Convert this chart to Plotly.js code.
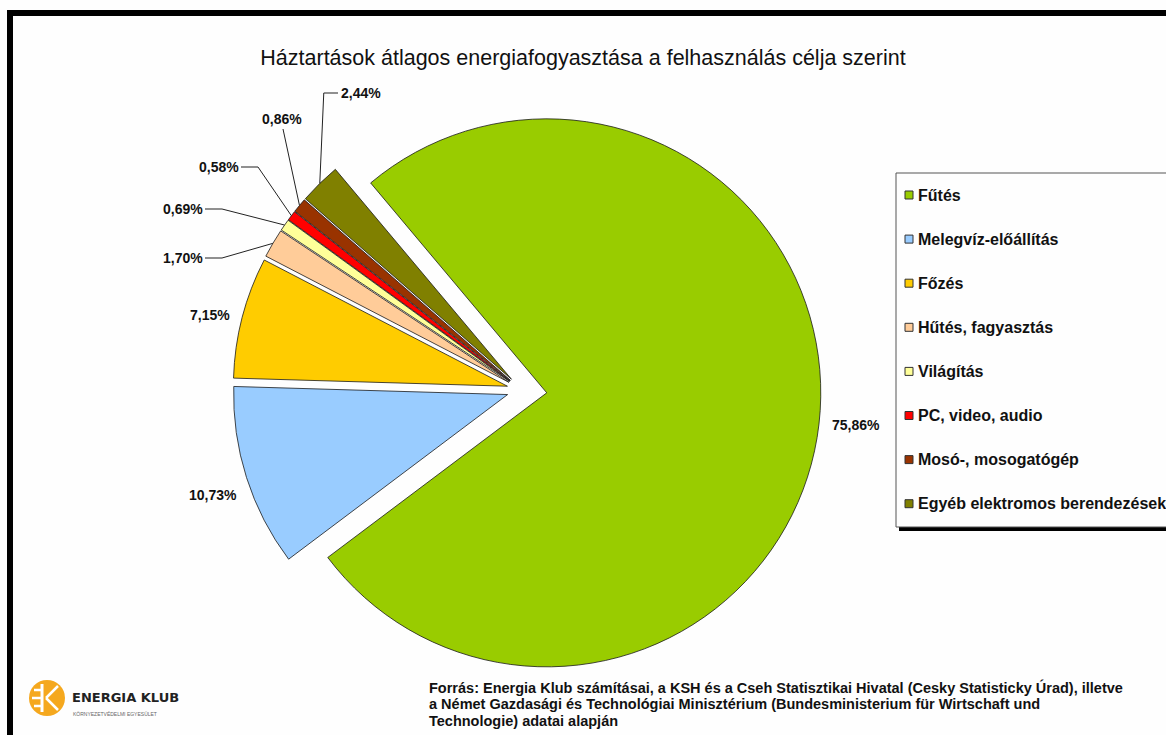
<!DOCTYPE html>
<html><head><meta charset="utf-8">
<script src="https://cdn.plot.ly/plotly-3.0.1.min.js"></script>
<style>html,body{margin:0;padding:0;background:#fff;}#chart{width:1166px;height:735px;}</style>
</head><body><div id="chart"></div>
<script>
// ---------- data ----------
const categories = ["Fűtés","Melegvíz-előállítás","Főzés","Hűtés, fagyasztás","Világítás","PC, video, audio","Mosó-, mosogatógép","Egyéb elektromos berendezések"];
const shares = [75.86, 10.73, 7.15, 1.70, 0.69, 0.58, 0.86, 2.44];
const sliceColors = ["#99CC00","#99CCFF","#FFCC00","#FFCC99","#FFFF99","#FF0000","#993300","#808000"];
const titleText = "Háztartások átlagos energiafogyasztása a felhasználás célja szerint";
const sourceLines = [
  "Forrás: Energia Klub számításai, a KSH és a Cseh Statisztikai Hivatal (Cesky Statisticky Úrad), illetve",
  "a Német Gazdasági és Technológiai Minisztérium (Bundesministerium für Wirtschaft und",
  "Technologie) adatai alapján"
];
const logoName = "ENERGIA KLUB";
const logoSub = "KÖRNYEZETVÉDELMI EGYESÜLET";

// ---------- layout constants (pixels) ----------
const W = 1166, H = 735;
const CX = 522, CY = 390, R = 274, ROT = -40;
const slicePull = [0.091, 0.055, 0.055, 0.055, 0.055, 0.055, 0.055, 0.055];
// label placement: [x, y, leader style]
const labelPos = [
  [856, 425, 'none'],
  [213, 495, 'none'],
  [210, 315, 'none'],
  [183, 258, 'h'],
  [183, 209, 'h'],
  [219, 167, 'h'],
  [282, 119, 'd'],
  [361, 93, 'v']
];
const FONT = "Liberation Sans, Arial, sans-serif";

const px = x => x / W;
const py = y => 1 - y / H;

const maxPull = Math.max(...slicePull);
const half = R * (1 + maxPull);
const domain = { x: [px(CX - half), px(CX + half)], y: [py(CY + half), py(CY - half)] };

const pieTrace = {
  type: 'pie',
  labels: categories,
  values: shares,
  sort: false,
  direction: 'clockwise',
  rotation: ROT,
  pull: slicePull,
  marker: { colors: sliceColors, line: { color: '#1a1a1a', width: 0.8 } },
  textinfo: 'none',
  hoverinfo: 'none',
  showlegend: false,
  domain: domain
};

// slice geometry derived from the data
const total = shares.reduce((a, b) => a + b, 0);
let cum = ROT;
const outerPts = shares.map((v, i) => {
  const a0 = cum, a1 = cum + v / total * 360; cum = a1;
  const mid = (a0 + a1) / 2 * Math.PI / 180;
  const dx = Math.sin(mid), dy = -Math.cos(mid);
  const cxp = CX + slicePull[i] * R * dx, cyp = CY + slicePull[i] * R * dy;
  return [cxp + R * dx, cyp + R * dy];
});

const fmt = v => v.toFixed(2).replace('.', ',') + '%';
const annotations = [];
const shapes = [];
const seg = (x0, y0, x1, y1, color, w) => shapes.push({ type: 'line', xref: 'paper', yref: 'paper', x0: px(x0), y0: py(y0), x1: px(x1), y1: py(y1), line: { color: color || '#222', width: w || 1 } });

shares.forEach((v, i) => {
  const [lx, ly, style] = labelPos[i];
  annotations.push({ xref: 'paper', yref: 'paper', x: px(lx), y: py(ly), text: fmt(v), showarrow: false, xanchor: 'center', yanchor: 'middle', font: { family: FONT, size: 14, color: '#111', weight: 'bold' } });
  const [ox, oy] = outerPts[i];
  const hw = 22;
  if (style === 'h') {
    seg(lx + hw, ly, lx + hw + 17, ly);
    seg(lx + hw + 17, ly, ox, oy);
  } else if (style === 'v') {
    seg(lx - hw - 1, ly, ox + 4, ly);
    seg(ox + 4, ly, ox, oy);
  } else if (style === 'd') {
    seg(lx + 1, ly + 10, ox, oy);
  }
});

// legend (built from categories / colours)
const LX = 896, LY0 = 173, LY1 = 527, LX1 = 1172;
shapes.push({ type: 'rect', xref: 'paper', yref: 'paper', x0: px(LX + 3), y0: py(LY1 + 4), x1: px(LX1), y1: py(LY1), fillcolor: '#000', line: { width: 0 } });
shapes.push({ type: 'rect', xref: 'paper', yref: 'paper', x0: px(LX), y0: py(LY1), x1: px(LX1), y1: py(LY0), fillcolor: 'rgba(0,0,0,0)', line: { color: '#555', width: 1 } });
categories.forEach((c, i) => {
  const y = 195 + i * 44.1;
  shapes.push({ type: 'rect', xref: 'paper', yref: 'paper', x0: px(905), x1: px(913), y0: py(y + 4), y1: py(y - 4), fillcolor: sliceColors[i], line: { color: '#333', width: 1 } });
  annotations.push({ xref: 'paper', yref: 'paper', x: px(916), y: py(y), text: c, showarrow: false, xanchor: 'left', yanchor: 'middle', font: { family: FONT, size: 16, color: '#111', weight: 'bold' } });
});

// frame
shapes.push({ type: 'rect', xref: 'paper', yref: 'paper', x0: px(7), x1: px(1170), y0: py(16), y1: py(10), fillcolor: '#000', line: { width: 0 } });
shapes.push({ type: 'rect', xref: 'paper', yref: 'paper', x0: px(7), x1: px(13), y0: py(740), y1: py(10), fillcolor: '#000', line: { width: 0 } });

// source note, one annotation per line
sourceLines.forEach((t, i) => {
  annotations.push({ xref: 'paper', yref: 'paper', x: px(427), y: py(687 + i * 17), text: t, showarrow: false, xanchor: 'left', yanchor: 'middle', align: 'left', font: { family: FONT, size: 14.5, color: '#111', weight: 'bold' } });
});

// logo
shapes.push({ type: 'circle', xref: 'paper', yref: 'paper', x0: px(29), x1: px(65), y0: py(716), y1: py(680), fillcolor: '#F5A81E', line: { width: 0 } });
seg(42, 684, 42, 712, '#fff', 3);
seg(34, 690, 42, 690, '#fff', 2.5);
seg(32, 698, 42, 698, '#fff', 2.5);
seg(34, 706, 42, 706, '#fff', 2.5);
seg(46, 698, 58, 686, '#fff', 2.5);
seg(46, 698, 58, 710, '#fff', 2.5);
annotations.push({ xref: 'paper', yref: 'paper', x: px(70), y: py(697), text: logoName, showarrow: false, xanchor: 'left', yanchor: 'middle', font: { family: "DejaVu Sans, sans-serif", size: 13, color: '#222', weight: 'bold' } });
annotations.push({ xref: 'paper', yref: 'paper', x: px(71), y: py(714), text: logoSub, showarrow: false, xanchor: 'left', yanchor: 'middle', font: { family: FONT, size: 5, color: '#666' } });

const layout = {
  width: W, height: H,
  margin: { l: 0, r: 0, t: 0, b: 0 },
  paper_bgcolor: '#fefefe',
  title: { text: titleText, x: 0.5, xanchor: 'center', y: py(57), yanchor: 'middle', yref: 'container', font: { family: FONT, size: 21.5, color: '#111' } },
  showlegend: false,
  annotations: annotations,
  shapes: shapes
};

Plotly.newPlot('chart', [pieTrace], layout, { displayModeBar: false, staticPlot: true });
</script>
</body></html>
